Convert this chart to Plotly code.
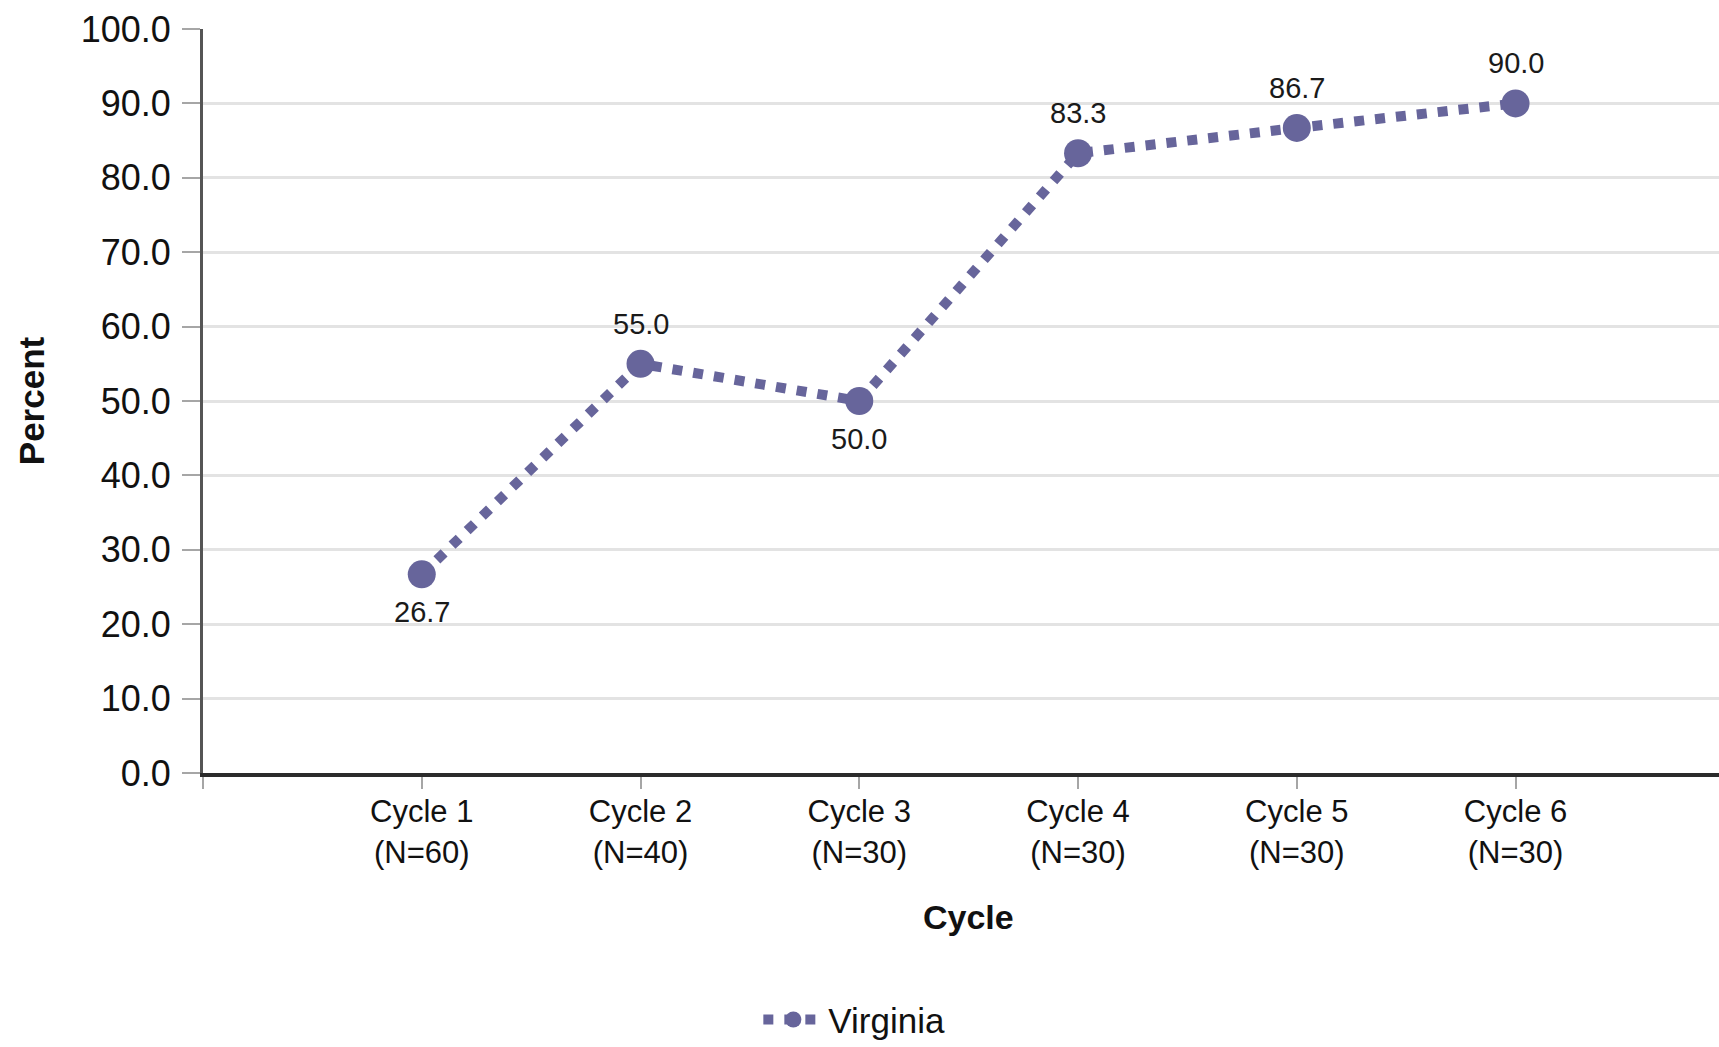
import plotly.graph_objects as go

# Share of participants per cycle, Virginia
cycles = ["Cycle 1", "Cycle 2", "Cycle 3", "Cycle 4", "Cycle 5", "Cycle 6"]
sample_sizes = ["(N=60)", "(N=40)", "(N=30)", "(N=30)", "(N=30)", "(N=30)"]
virginia = [26.7, 55.0, 50.0, 83.3, 86.7, 90.0]
label_side = ["below", "above", "below", "above", "above", "above"]
y_ticks = [0, 10, 20, 30, 40, 50, 60, 70, 80, 90, 100]

LINE_COLOR = "#67659b"
FONT = "Liberation Sans, Arial, sans-serif"

x_pos = list(range(len(cycles)))
tick_text = [f"{c}<br>{n}" for c, n in zip(cycles, sample_sizes)]

fig = go.Figure()
fig.add_trace(go.Scatter(
    x=x_pos,
    y=virginia,
    mode="lines+markers",
    name="Virginia",
    line=dict(color=LINE_COLOR, width=10, dash="10px,11px"),
    marker=dict(color=LINE_COLOR, size=28, symbol="circle"),
    hoverinfo="skip",
))

# value labels above or below each point
for xi, v, side in zip(x_pos, virginia, label_side):
    fig.add_annotation(
        x=xi, y=v, xref="x", yref="y",
        text=f"{v:.1f}", showarrow=False,
        yshift=40 if side == "above" else -38,
        font=dict(family=FONT, size=29, color="#1a1a1a"),
    )

# x-axis title
fig.add_annotation(
    x=0.505, y=-0.193, xref="paper", yref="paper",
    text="<b>Cycle</b>", showarrow=False,
    xanchor="center", yanchor="middle",
    font=dict(family=FONT, size=34, color="#111111"),
)

fig.update_layout(
    width=1719, height=1047,
    margin=dict(l=203, r=0, t=29, b=274),
    paper_bgcolor="white", plot_bgcolor="white",
    font=dict(family=FONT, color="#111111"),
    showlegend=True,
    legend=dict(
        orientation="h",
        xref="container", yref="container",
        x=0.497, y=0.026, xanchor="center", yanchor="middle",
        font=dict(family=FONT, size=35, color="#111111"),
        itemwidth=60,
    ),
)

fig.update_xaxes(
    range=[-1, 5.93],
    tickvals=[-1] + x_pos,
    ticktext=[""] + tick_text,
    showgrid=False,
    showline=True, linecolor="#2b2b2b", linewidth=4,
    ticks="outside", ticklen=12, tickwidth=2, tickcolor="#a6a6a6",
    tickfont=dict(family=FONT, size=31, color="#111111"),
    ticklabelstandoff=-4,
    zeroline=False,
)

fig.update_yaxes(
    range=[0, 100],
    tickvals=y_ticks,
    tickformat=".1f",
    showgrid=True, gridcolor="#e3e3e3", gridwidth=3,
    showline=True, linecolor="#555555", linewidth=3,
    ticks="outside", ticklen=18, tickwidth=2, tickcolor="#a6a6a6",
    tickfont=dict(family=FONT, size=36, color="#111111"),
    ticklabelstandoff=4,
    zeroline=False,
    title=dict(text="<b>Percent</b>", font=dict(family=FONT, size=35, color="#111111"), standoff=26),
)

fig.write_html("out.html")
